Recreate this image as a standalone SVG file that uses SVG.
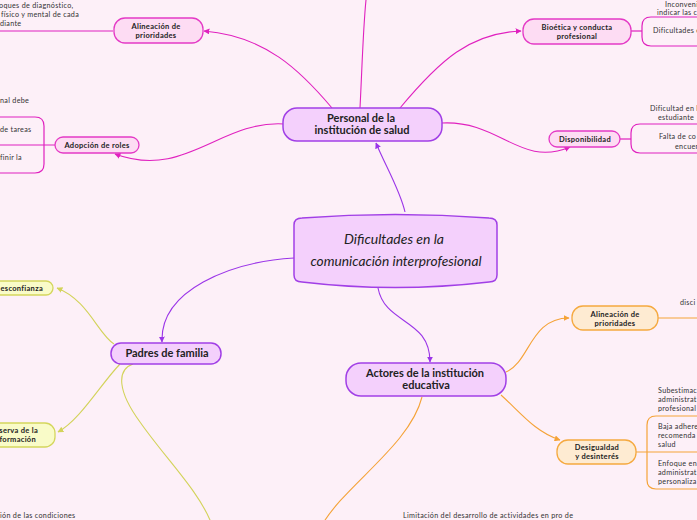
<svg xmlns="http://www.w3.org/2000/svg" width="697" height="520" viewBox="0 0 697 520">
<defs>
<style>
.bg{fill:#fdf0f8}
.lnk{fill:none;stroke-width:1.1}
.pk{stroke:#e021bf}
.pu{stroke:#9b35e8}
.or{stroke:#f5a338}
.ye{stroke:#d3d35a}
.nPu{fill:#f4d0fc;stroke:#a13fe6;stroke-width:1.5}
.nPk{fill:#fddcf3;stroke:#e43ac6;stroke-width:1.3}
.nOr{fill:#feebd2;stroke:#f5a93f;stroke-width:1.3}
.nYe{fill:#f9fbc8;stroke:#d4d65c;stroke-width:1.3}
.t{font-family:Lato,"Liberation Sans",sans-serif;fill:#222;text-anchor:middle}
.tb{font-weight:bold}
.big{font-size:11px}
.sm{font-size:7.5px;letter-spacing:0.3px}
.c{font-family:Lato,"Liberation Sans",sans-serif;font-size:7.2px;fill:#333;letter-spacing:0.3px}
.br{fill:none;stroke-width:1.2}
</style>
<marker id="aPu" viewBox="0 0 10 10" refX="9" refY="5" markerWidth="6" markerHeight="6" markerUnits="userSpaceOnUse" orient="auto"><path d="M0,0 L10,5 L0,10 z" fill="#9b35e8"/></marker>
<marker id="aPk" viewBox="0 0 10 10" refX="9" refY="5" markerWidth="6" markerHeight="6" markerUnits="userSpaceOnUse" orient="auto"><path d="M0,0 L10,5 L0,10 z" fill="#e021bf"/></marker>
<marker id="aOr" viewBox="0 0 10 10" refX="9" refY="5" markerWidth="6" markerHeight="6" markerUnits="userSpaceOnUse" orient="auto"><path d="M0,0 L10,5 L0,10 z" fill="#f5a338"/></marker>
<marker id="aYe" viewBox="0 0 10 10" refX="9" refY="5" markerWidth="6" markerHeight="6" markerUnits="userSpaceOnUse" orient="auto"><path d="M0,0 L10,5 L0,10 z" fill="#d3d35a"/></marker>
</defs>
<rect class="bg" x="0" y="0" width="697" height="520"/>

<g id="connectors">
<path class="lnk pu" d="M405,212 C400,190 385,165 376,143" marker-end="url(#aPu)"/>
<path class="lnk pu" d="M294,258 C230,262 160,290 162,342" marker-end="url(#aPu)"/>
<path class="lnk pu" d="M378,288 C385,325 430,318 430,362" marker-end="url(#aPu)"/>
<path class="lnk pk" d="M332,108 C300,70 265,36 204,31" marker-end="url(#aPk)"/>
<path class="lnk pk" d="M284,124 C220,120 185,180 115,154" marker-end="url(#aPk)"/>
<path class="lnk pk" d="M360,108 C362,70 363,30 366,0"/>
<path class="lnk pk" d="M400,108 C440,60 470,33 521,31" marker-end="url(#aPk)"/>
<path class="lnk pk" d="M442,123 C500,120 520,168 570,147" marker-end="url(#aPk)"/>
<path class="lnk or" d="M506,372 C530,362 530,318 569,318" marker-end="url(#aOr)"/>
<path class="lnk or" d="M501,395 C520,412 535,432 560,440" marker-end="url(#aOr)"/>
<path class="lnk or" d="M422,397 C410,445 345,485 322,525"/>
<path class="lnk ye" d="M114,344 C98,334 88,300 57,288" marker-end="url(#aYe)"/>
<path class="lnk ye" d="M120,364 C100,385 80,420 58,432" marker-end="url(#aYe)"/>
<path class="lnk ye" d="M133,364 C116,370 118,392 140,422 C165,458 200,492 212,525"/>
<path class="br pk" d="M113,31 H0"/>
<path class="br pk" d="M55,145 H0"/>
<path class="br pk" d="M0,117 H35 Q44,117 44,126 V164 Q44,173 35,173 H0"/>
<path class="br pk" d="M630,31 H642" stroke-width="2"/>
<path class="br pk" d="M697,17 H651 Q642,17 642,26 V37 Q642,46 651,46 H697"/>
<path class="br pk" d="M620,139 H631" stroke-width="2"/>
<path class="br pk" d="M697,124 H640 Q631,124 631,133 V144 Q631,153 640,153 H697"/>
<path class="br or" d="M658,318 H697"/>
<path class="br or" d="M636,452 H697"/>
<path class="br or" d="M697,416 H656 Q647,416 647,425 V480 Q647,489 656,489 H697"/>
</g>

<g id="central">
<path class="nPu" stroke-width="2" d="M294,225 Q294,218 302,218 Q395,211 489,218 Q497,218 497,225 L497,275 Q497,282 489,282 Q395,293 302,282 Q294,282 294,275 Z"/>
<text class="t" x="394" y="244" font-family="'DejaVu Sans',sans-serif" font-style="italic" font-size="14" textLength="100" lengthAdjust="spacingAndGlyphs">Dificultades en la</text>
<text class="t" x="396" y="266" font-family="'DejaVu Sans',sans-serif" font-style="italic" font-size="14" textLength="171" lengthAdjust="spacingAndGlyphs">comunicación interprofesional</text>
</g>

<g id="personal">
<rect class="nPu" x="283" y="108" width="159" height="33" rx="14"/>
<text class="t tb big" x="361" y="122">Personal de la</text>
<text class="t tb big" x="362" y="134">institución de salud</text>
</g>

<g id="padres">
<rect class="nPu" x="111" y="343" width="110" height="21" rx="10"/>
<text class="t tb big" x="167" y="357">Padres de familia</text>
</g>

<g id="actores">
<rect class="nPu" x="346" y="363" width="160" height="33" rx="15"/>
<text class="t tb big" x="425" y="377">Actores de la institución</text>
<text class="t tb big" x="426" y="389">educativa</text>
</g>

<g id="alineacion-salud">
<rect class="nPk" x="114" y="18" width="89" height="25" rx="11"/>
<text class="t tb sm" x="156" y="29">Alineación de</text>
<text class="t tb sm" x="156" y="38">prioridades</text>
<text class="c" x="-1" y="8">oques de diagnóstico,</text>
<text class="c" x="1" y="17">físico y mental de cada</text>
<text class="c" x="0" y="26">diante</text>
</g>

<g id="adopcion">
<rect class="nPk" x="55" y="137" width="84" height="16" rx="8"/>
<text class="t tb sm" x="97" y="148">Adopción de roles</text>
<text class="c" x="0" y="103">nal debe</text>
<text class="c" x="0" y="132">de tareas</text>
<text class="c" x="0" y="160">finir la</text>
</g>

<g id="bioetica">
<rect class="nPk" x="523" y="19" width="108" height="25" rx="11"/>
<text class="t tb sm" x="577" y="30">Bioética y conducta</text>
<text class="t tb sm" x="577" y="39">profesional</text>
<text class="c" x="665" y="7">Inconveni</text>
<text class="c" x="657" y="15">indicar las c</text>
<text class="c" x="653" y="33">Dificultades e</text>
</g>

<g id="disponibilidad">
<rect class="nPk" x="549" y="131" width="71" height="16" rx="8"/>
<text class="t tb sm" x="585" y="142">Disponibilidad</text>
<text class="c" x="650" y="111">Dificultad en l</text>
<text class="c" x="658" y="120">estudiante</text>
<text class="c" x="659" y="139">Falta de co</text>
<text class="c" x="675" y="149">encuen</text>
</g>

<g id="alineacion-edu">
<rect class="nOr" x="572" y="306" width="86" height="24" rx="11"/>
<text class="t tb sm" x="615" y="317">Alineación de</text>
<text class="t tb sm" x="615" y="326">prioridades</text>
<text class="c" x="680" y="305">disci</text>
</g>

<g id="desigualdad">
<rect class="nOr" x="557" y="440" width="79" height="24" rx="11"/>
<text class="t tb sm" x="597" y="450">Desigualdad</text>
<text class="t tb sm" x="597" y="459">y desinterés</text>
<text class="c" x="658" y="393">Subestimac</text>
<text class="c" x="658" y="402">administrat</text>
<text class="c" x="658" y="411">profesional</text>
<text class="c" x="658" y="429">Baja adhere</text>
<text class="c" x="658" y="438">recomenda</text>
<text class="c" x="658" y="447">salud</text>
<text class="c" x="658" y="466">Enfoque en</text>
<text class="c" x="658" y="475">administrat</text>
<text class="c" x="658" y="484">personaliza</text>
</g>

<g id="desconfianza">
<rect class="nYe" x="-12" y="281" width="65" height="14" rx="7"/>
<text class="t tb sm" x="43" y="291" style="text-anchor:end">esconfianza</text>
</g>

<g id="reserva">
<rect class="nYe" x="-12" y="423" width="67" height="24" rx="10"/>
<text class="t tb sm" x="38" y="433" style="text-anchor:end">serva de la</text>
<text class="t tb sm" x="36" y="442" style="text-anchor:end">formación</text>
</g>

<g id="bottom-texts">
<text class="c" x="0" y="518">ión de las condiciones</text>
<text class="c" x="403" y="518">Limitación del desarrollo de actividades en pro de</text>
</g>
</svg>
